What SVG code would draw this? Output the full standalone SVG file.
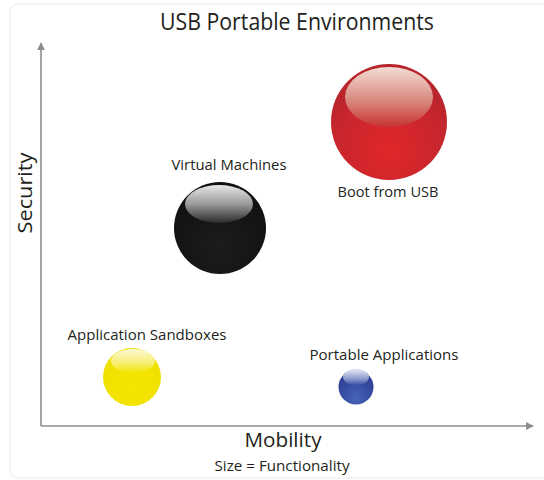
<svg xmlns="http://www.w3.org/2000/svg" width="544" height="480" viewBox="0 0 544 480">
<style>
text{font-family:"Open Sans","Noto Sans","Liberation Sans",sans-serif;fill:#231f20}
.lbl{font-size:14px;text-anchor:middle}
.ax{stroke:#8c8c8c;stroke-width:1.6;fill:none}
</style>
<defs>
<marker id="arr" viewBox="0 0 10 10" refX="9" refY="5" markerWidth="5" markerHeight="5" orient="auto" markerUnits="strokeWidth"><path d="M0,0 L10,5 L0,10 z" fill="#8c8c8c"/></marker>
<radialGradient id="gRed" cx="0.5" cy="0.75" r="0.65"><stop offset="0" stop-color="#e1262a"/><stop offset="0.7" stop-color="#c8262d"/><stop offset="1" stop-color="#b8252b"/></radialGradient>
<linearGradient id="hRed" x1="0" y1="0" x2="0" y2="1"><stop offset="0" stop-color="#f3dcd4"/><stop offset="0.55" stop-color="#d98a80"/><stop offset="1" stop-color="#c8342f"/></linearGradient>
<radialGradient id="gBlk" cx="0.5" cy="0.7" r="0.65"><stop offset="0" stop-color="#1c1c1c"/><stop offset="1" stop-color="#111"/></radialGradient>
<linearGradient id="hBlk" x1="0" y1="0" x2="0" y2="1"><stop offset="0" stop-color="#e6e6e6"/><stop offset="0.5" stop-color="#9a9a9a"/><stop offset="1" stop-color="#2a2a2a"/></linearGradient>
<radialGradient id="gYel" cx="0.5" cy="0.7" r="0.65"><stop offset="0" stop-color="#f5e600"/><stop offset="1" stop-color="#efe000"/></radialGradient>
<linearGradient id="hYel" x1="0" y1="0" x2="0" y2="1"><stop offset="0" stop-color="#fbf7d6"/><stop offset="0.6" stop-color="#f7ee70"/><stop offset="1" stop-color="#f3e500"/></linearGradient>
<radialGradient id="gBlu" cx="0.5" cy="0.8" r="0.65"><stop offset="0" stop-color="#4664b8"/><stop offset="1" stop-color="#2e3f96"/></radialGradient>
<linearGradient id="hBlu" x1="0" y1="0" x2="0" y2="1"><stop offset="0" stop-color="#e6e9f4"/><stop offset="0.6" stop-color="#8e9ccd"/><stop offset="1" stop-color="#3d51a6"/></linearGradient>
</defs>
<rect x="0" y="0" width="544" height="480" fill="#fff"/>
<rect x="10" y="4" width="560" height="474" rx="8" fill="none" stroke="#ececec" stroke-width="1"/>
<text x="297" y="30" font-size="23" text-anchor="middle" textLength="274" lengthAdjust="spacingAndGlyphs">USB Portable Environments</text>
<g id="connectors">
<line class="ax" x1="41" y1="426" x2="41" y2="43" marker-end="url(#arr)"/>
<line class="ax" x1="41" y1="426" x2="533" y2="426" marker-end="url(#arr)"/>
</g>
<text transform="translate(32,193) rotate(-90)" font-size="20" text-anchor="middle" textLength="81" lengthAdjust="spacingAndGlyphs">Security</text>
<text x="283" y="447" font-size="20" text-anchor="middle" textLength="77" lengthAdjust="spacingAndGlyphs">Mobility</text>
<text x="282" y="471" font-size="14" text-anchor="middle" textLength="135" lengthAdjust="spacingAndGlyphs">Size = Functionality</text>
<g id="boot">
<circle cx="389" cy="122" r="58" fill="url(#gRed)"/>
<ellipse cx="389" cy="97" rx="44" ry="30" fill="url(#hRed)"/>
<text class="lbl" x="388" y="197" textLength="101" lengthAdjust="spacingAndGlyphs">Boot from USB</text>
</g>
<g id="vm">
<circle cx="220" cy="228" r="46" fill="url(#gBlk)"/>
<ellipse cx="219" cy="204" rx="34" ry="19" fill="url(#hBlk)"/>
<text class="lbl" x="229" y="170" textLength="115" lengthAdjust="spacingAndGlyphs">Virtual Machines</text>
</g>
<g id="sandbox">
<circle cx="132" cy="377" r="29" fill="url(#gYel)"/>
<ellipse cx="133" cy="361" rx="22" ry="12" fill="url(#hYel)"/>
<text class="lbl" x="147" y="340" textLength="159" lengthAdjust="spacingAndGlyphs">Application Sandboxes</text>
</g>
<g id="portable">
<circle cx="356" cy="387" r="17.5" fill="url(#gBlu)"/>
<ellipse cx="356" cy="377" rx="13" ry="8" fill="url(#hBlu)"/>
<text class="lbl" x="384" y="360" textLength="149" lengthAdjust="spacingAndGlyphs">Portable Applications</text>
</g>
</svg>
